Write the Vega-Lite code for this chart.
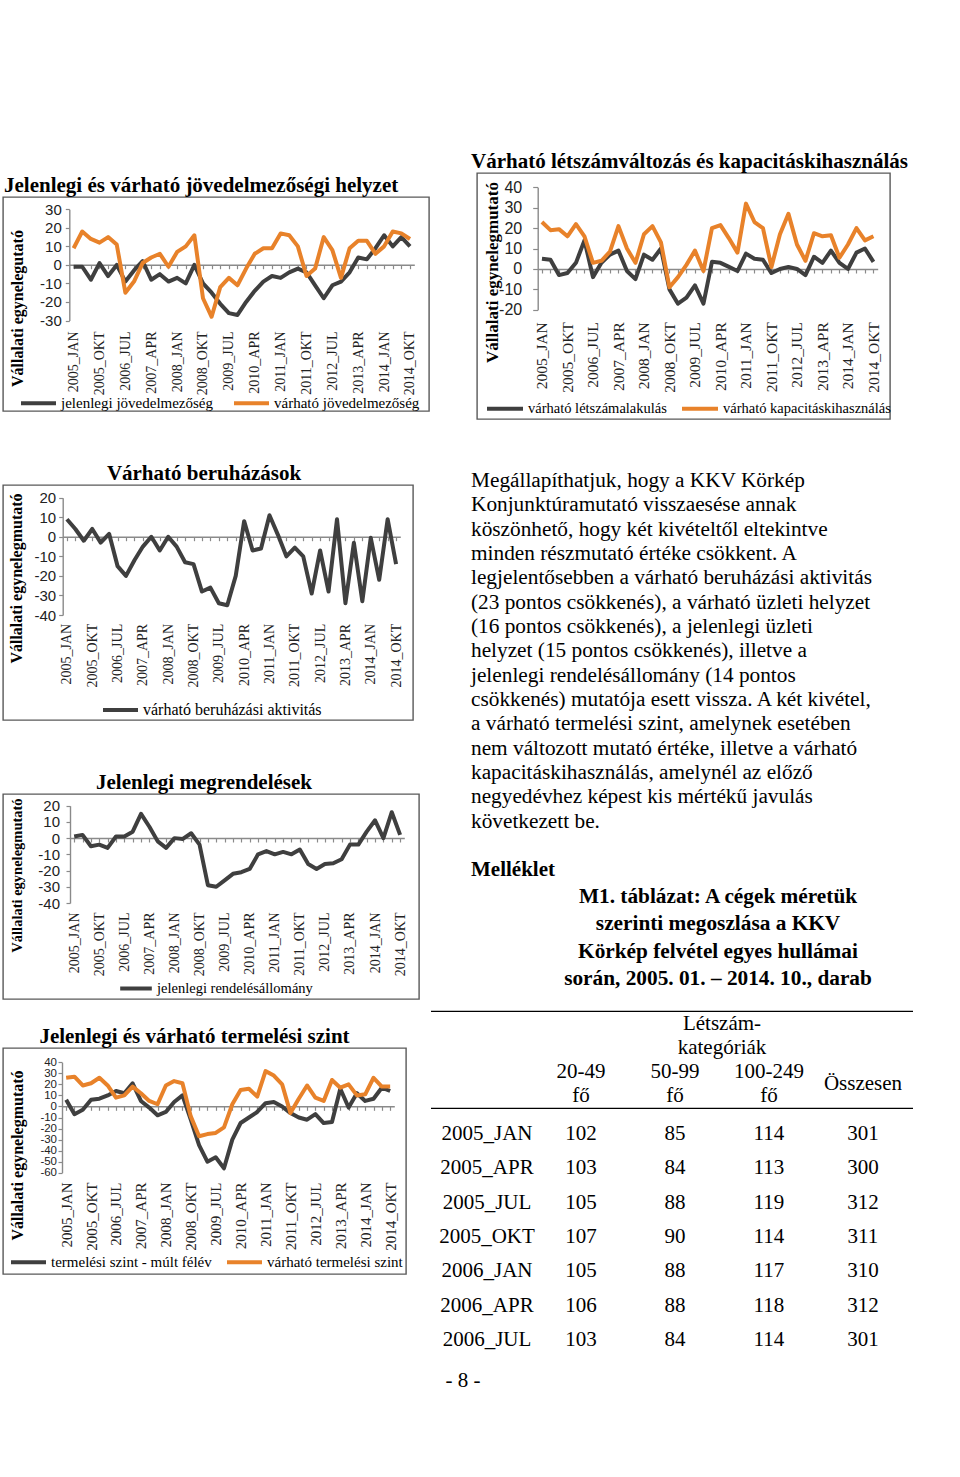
{
  "$schema": "https://vega.github.io/schema/vega-lite/v6.json",
  "background": "white",
  "padding": {"left": 2, "top": 148, "right": 0, "bottom": 0},
  "spacing": 0,
  "resolve": {"scale": {"color": "independent"}, "legend": {"color": "independent"}},
  "config": {
    "view": {"stroke": "#595959", "strokeWidth": 1.4},
    "axis": {"domainColor": "#8a8a8a", "tickColor": "#8a8a8a", "domainWidth": 1.4, "tickWidth": 1.2, "labelColor": "#222", "titleColor": "#000", "grid": false},
    "legend": {"labelFont": "Liberation Serif", "labelFontSize": 15, "labelColor": "#000", "symbolType": "stroke", "symbolStrokeWidth": 4, "symbolSize": 1225, "labelOffset": 3, "padding": 0, "labelLimit": 500},
    "title": {"font": "Liberation Serif", "fontSize": 21, "fontWeight": "bold", "color": "#000", "offset": 1.5}
  },
  "datasets": {
    "d1": [
      {"q":"2005_JAN","s":"jelenlegi jövedelmezőség","v":-1},{"q":"2005_APR","s":"jelenlegi jövedelmezőség","v":-1},{"q":"2005_JUL","s":"jelenlegi jövedelmezőség","v":-8},{"q":"2005_OKT","s":"jelenlegi jövedelmezőség","v":1},
      {"q":"2006_JAN","s":"jelenlegi jövedelmezőség","v":-6},{"q":"2006_APR","s":"jelenlegi jövedelmezőség","v":0},{"q":"2006_JUL","s":"jelenlegi jövedelmezőség","v":-9},{"q":"2006_OKT","s":"jelenlegi jövedelmezőség","v":-3},
      {"q":"2007_JAN","s":"jelenlegi jövedelmezőség","v":2},{"q":"2007_APR","s":"jelenlegi jövedelmezőség","v":-8},{"q":"2007_JUL","s":"jelenlegi jövedelmezőség","v":-5},{"q":"2007_OKT","s":"jelenlegi jövedelmezőség","v":-9},
      {"q":"2008_JAN","s":"jelenlegi jövedelmezőség","v":-7},{"q":"2008_APR","s":"jelenlegi jövedelmezőség","v":-10},{"q":"2008_JUL","s":"jelenlegi jövedelmezőség","v":0},{"q":"2008_OKT","s":"jelenlegi jövedelmezőség","v":-10},
      {"q":"2009_JAN","s":"jelenlegi jövedelmezőség","v":-15},{"q":"2009_APR","s":"jelenlegi jövedelmezőség","v":-21},{"q":"2009_JUL","s":"jelenlegi jövedelmezőség","v":-26},{"q":"2009_OKT","s":"jelenlegi jövedelmezőség","v":-27},
      {"q":"2010_JAN","s":"jelenlegi jövedelmezőség","v":-20},{"q":"2010_APR","s":"jelenlegi jövedelmezőség","v":-14},{"q":"2010_JUL","s":"jelenlegi jövedelmezőség","v":-9},{"q":"2010_OKT","s":"jelenlegi jövedelmezőség","v":-6},
      {"q":"2011_JAN","s":"jelenlegi jövedelmezőség","v":-7},{"q":"2011_APR","s":"jelenlegi jövedelmezőség","v":-4},{"q":"2011_JUL","s":"jelenlegi jövedelmezőség","v":-2},{"q":"2011_OKT","s":"jelenlegi jövedelmezőség","v":-4},
      {"q":"2012_JAN","s":"jelenlegi jövedelmezőség","v":-11},{"q":"2012_APR","s":"jelenlegi jövedelmezőség","v":-18},{"q":"2012_JUL","s":"jelenlegi jövedelmezőség","v":-11},{"q":"2012_OKT","s":"jelenlegi jövedelmezőség","v":-9},
      {"q":"2013_JAN","s":"jelenlegi jövedelmezőség","v":-4},{"q":"2013_APR","s":"jelenlegi jövedelmezőség","v":4},{"q":"2013_JUL","s":"jelenlegi jövedelmezőség","v":3},{"q":"2013_OKT","s":"jelenlegi jövedelmezőség","v":9},
      {"q":"2014_JAN","s":"jelenlegi jövedelmezőség","v":16},{"q":"2014_APR","s":"jelenlegi jövedelmezőség","v":10},{"q":"2014_JUL","s":"jelenlegi jövedelmezőség","v":15},{"q":"2014_OKT","s":"jelenlegi jövedelmezőség","v":10},
      {"q":"2005_JAN","s":"várható jövedelmezőség","v":9},{"q":"2005_APR","s":"várható jövedelmezőség","v":18},{"q":"2005_JUL","s":"várható jövedelmezőség","v":14},{"q":"2005_OKT","s":"várható jövedelmezőség","v":12},
      {"q":"2006_JAN","s":"várható jövedelmezőség","v":15},{"q":"2006_APR","s":"várható jövedelmezőség","v":11},{"q":"2006_JUL","s":"várható jövedelmezőség","v":-15},{"q":"2006_OKT","s":"várható jövedelmezőség","v":-9},
      {"q":"2007_JAN","s":"várható jövedelmezőség","v":1},{"q":"2007_APR","s":"várható jövedelmezőség","v":4},{"q":"2007_JUL","s":"várható jövedelmezőség","v":6},{"q":"2007_OKT","s":"várható jövedelmezőség","v":-1},
      {"q":"2008_JAN","s":"várható jövedelmezőség","v":7},{"q":"2008_APR","s":"várható jövedelmezőség","v":10},{"q":"2008_JUL","s":"várható jövedelmezőség","v":16},{"q":"2008_OKT","s":"várható jövedelmezőség","v":-18},
      {"q":"2009_JAN","s":"várható jövedelmezőség","v":-28},{"q":"2009_APR","s":"várható jövedelmezőség","v":-12},{"q":"2009_JUL","s":"várható jövedelmezőség","v":-7},{"q":"2009_OKT","s":"várható jövedelmezőség","v":-11},
      {"q":"2010_JAN","s":"várható jövedelmezőség","v":-2},{"q":"2010_APR","s":"várható jövedelmezőség","v":6},{"q":"2010_JUL","s":"várható jövedelmezőség","v":9},{"q":"2010_OKT","s":"várható jövedelmezőség","v":9},
      {"q":"2011_JAN","s":"várható jövedelmezőség","v":17},{"q":"2011_APR","s":"várható jövedelmezőség","v":16},{"q":"2011_JUL","s":"várható jövedelmezőség","v":10},{"q":"2011_OKT","s":"várható jövedelmezőség","v":-6},
      {"q":"2012_JAN","s":"várható jövedelmezőség","v":-2},{"q":"2012_APR","s":"várható jövedelmezőség","v":15},{"q":"2012_JUL","s":"várható jövedelmezőség","v":8},{"q":"2012_OKT","s":"várható jövedelmezőség","v":-7},
      {"q":"2013_JAN","s":"várható jövedelmezőség","v":9},{"q":"2013_APR","s":"várható jövedelmezőség","v":13},{"q":"2013_JUL","s":"várható jövedelmezőség","v":13},{"q":"2013_OKT","s":"várható jövedelmezőség","v":6},
      {"q":"2014_JAN","s":"várható jövedelmezőség","v":10},{"q":"2014_APR","s":"várható jövedelmezőség","v":18},{"q":"2014_JUL","s":"várható jövedelmezőség","v":17},{"q":"2014_OKT","s":"várható jövedelmezőség","v":14}
    ],
    "d2": [
      {"q":"2005_JAN","s":"várható létszámalakulás","v":5},{"q":"2005_APR","s":"várható létszámalakulás","v":4.5},{"q":"2005_JUL","s":"várható létszámalakulás","v":-3},{"q":"2005_OKT","s":"várható létszámalakulás","v":-2},
      {"q":"2006_JAN","s":"várható létszámalakulás","v":3},{"q":"2006_APR","s":"várható létszámalakulás","v":14},{"q":"2006_JUL","s":"várható létszámalakulás","v":-4},{"q":"2006_OKT","s":"várható létszámalakulás","v":3},
      {"q":"2007_JAN","s":"várható létszámalakulás","v":7},{"q":"2007_APR","s":"várható létszámalakulás","v":9},{"q":"2007_JUL","s":"várható létszámalakulás","v":-1},{"q":"2007_OKT","s":"várható létszámalakulás","v":-5},
      {"q":"2008_JAN","s":"várható létszámalakulás","v":7},{"q":"2008_APR","s":"várható létszámalakulás","v":4.5},{"q":"2008_JUL","s":"várható létszámalakulás","v":10},{"q":"2008_OKT","s":"várható létszámalakulás","v":-10},
      {"q":"2009_JAN","s":"várható létszámalakulás","v":-17},{"q":"2009_APR","s":"várható létszámalakulás","v":-14},{"q":"2009_JUL","s":"várható létszámalakulás","v":-8},{"q":"2009_OKT","s":"várható létszámalakulás","v":-17},
      {"q":"2010_JAN","s":"várható létszámalakulás","v":3.5},{"q":"2010_APR","s":"várható létszámalakulás","v":3},{"q":"2010_JUL","s":"várható létszámalakulás","v":1},{"q":"2010_OKT","s":"várható létszámalakulás","v":-1},
      {"q":"2011_JAN","s":"várható létszámalakulás","v":7.5},{"q":"2011_APR","s":"várható létszámalakulás","v":5},{"q":"2011_JUL","s":"várható létszámalakulás","v":4.5},{"q":"2011_OKT","s":"várható létszámalakulás","v":-2},
      {"q":"2012_JAN","s":"várható létszámalakulás","v":0},{"q":"2012_APR","s":"várható létszámalakulás","v":1},{"q":"2012_JUL","s":"várható létszámalakulás","v":0},{"q":"2012_OKT","s":"várható létszámalakulás","v":-3},
      {"q":"2013_JAN","s":"várható létszámalakulás","v":6},{"q":"2013_APR","s":"várható létszámalakulás","v":3},{"q":"2013_JUL","s":"várható létszámalakulás","v":9},{"q":"2013_OKT","s":"várható létszámalakulás","v":3},
      {"q":"2014_JAN","s":"várható létszámalakulás","v":0},{"q":"2014_APR","s":"várható létszámalakulás","v":8},{"q":"2014_JUL","s":"várható létszámalakulás","v":10},{"q":"2014_OKT","s":"várható létszámalakulás","v":3.5},
      {"q":"2005_JAN","s":"várható kapacitáskihasználás","v":23},{"q":"2005_APR","s":"várható kapacitáskihasználás","v":19},{"q":"2005_JUL","s":"várható kapacitáskihasználás","v":19.5},{"q":"2005_OKT","s":"várható kapacitáskihasználás","v":16},
      {"q":"2006_JAN","s":"várható kapacitáskihasználás","v":22},{"q":"2006_APR","s":"várható kapacitáskihasználás","v":16},{"q":"2006_JUL","s":"várható kapacitáskihasználás","v":3},{"q":"2006_OKT","s":"várható kapacitáskihasználás","v":4},
      {"q":"2007_JAN","s":"várható kapacitáskihasználás","v":8.5},{"q":"2007_APR","s":"várható kapacitáskihasználás","v":21},{"q":"2007_JUL","s":"várható kapacitáskihasználás","v":10},{"q":"2007_OKT","s":"várható kapacitáskihasználás","v":3},
      {"q":"2008_JAN","s":"várható kapacitáskihasználás","v":17},{"q":"2008_APR","s":"várható kapacitáskihasználás","v":21},{"q":"2008_JUL","s":"várható kapacitáskihasználás","v":13},{"q":"2008_OKT","s":"várható kapacitáskihasználás","v":-9},
      {"q":"2009_JAN","s":"várható kapacitáskihasználás","v":-4},{"q":"2009_APR","s":"várható kapacitáskihasználás","v":2},{"q":"2009_JUL","s":"várható kapacitáskihasználás","v":9},{"q":"2009_OKT","s":"várható kapacitáskihasználás","v":-1},
      {"q":"2010_JAN","s":"várható kapacitáskihasználás","v":20},{"q":"2010_APR","s":"várható kapacitáskihasználás","v":21.5},{"q":"2010_JUL","s":"várható kapacitáskihasználás","v":15},{"q":"2010_OKT","s":"várható kapacitáskihasználás","v":8},
      {"q":"2011_JAN","s":"várható kapacitáskihasználás","v":32},{"q":"2011_APR","s":"várható kapacitáskihasználás","v":23},{"q":"2011_JUL","s":"várható kapacitáskihasználás","v":20},{"q":"2011_OKT","s":"várható kapacitáskihasználás","v":1},
      {"q":"2012_JAN","s":"várható kapacitáskihasználás","v":17},{"q":"2012_APR","s":"várható kapacitáskihasználás","v":27},{"q":"2012_JUL","s":"várható kapacitáskihasználás","v":12},{"q":"2012_OKT","s":"várható kapacitáskihasználás","v":4},
      {"q":"2013_JAN","s":"várható kapacitáskihasználás","v":17.5},{"q":"2013_APR","s":"várható kapacitáskihasználás","v":16},{"q":"2013_JUL","s":"várható kapacitáskihasználás","v":16.5},{"q":"2013_OKT","s":"várható kapacitáskihasználás","v":5.5},
      {"q":"2014_JAN","s":"várható kapacitáskihasználás","v":12},{"q":"2014_APR","s":"várható kapacitáskihasználás","v":20},{"q":"2014_JUL","s":"várható kapacitáskihasználás","v":14},{"q":"2014_OKT","s":"várható kapacitáskihasználás","v":16}
    ],
    "d3": [
      {"q":"2005_JAN","s":"várható beruházási aktivitás","v":9},{"q":"2005_APR","s":"várható beruházási aktivitás","v":4},{"q":"2005_JUL","s":"várható beruházási aktivitás","v":-2},{"q":"2005_OKT","s":"várható beruházási aktivitás","v":4},
      {"q":"2006_JAN","s":"várható beruházási aktivitás","v":-3},{"q":"2006_APR","s":"várható beruházási aktivitás","v":1.5},{"q":"2006_JUL","s":"várható beruházási aktivitás","v":-15},{"q":"2006_OKT","s":"várható beruházási aktivitás","v":-20},
      {"q":"2007_JAN","s":"várható beruházási aktivitás","v":-12},{"q":"2007_APR","s":"várható beruházási aktivitás","v":-5},{"q":"2007_JUL","s":"várható beruházási aktivitás","v":0},{"q":"2007_OKT","s":"várható beruházási aktivitás","v":-7},
      {"q":"2008_JAN","s":"várható beruházási aktivitás","v":0},{"q":"2008_APR","s":"várható beruházási aktivitás","v":-5},{"q":"2008_JUL","s":"várható beruházási aktivitás","v":-13},{"q":"2008_OKT","s":"várható beruházási aktivitás","v":-14},
      {"q":"2009_JAN","s":"várható beruházási aktivitás","v":-28},{"q":"2009_APR","s":"várható beruházási aktivitás","v":-26},{"q":"2009_JUL","s":"várható beruházási aktivitás","v":-34},{"q":"2009_OKT","s":"várható beruházási aktivitás","v":-35},
      {"q":"2010_JAN","s":"várható beruházási aktivitás","v":-20},{"q":"2010_APR","s":"várható beruházási aktivitás","v":8},{"q":"2010_JUL","s":"várható beruházási aktivitás","v":-7},{"q":"2010_OKT","s":"várható beruházási aktivitás","v":-6},
      {"q":"2011_JAN","s":"várható beruházási aktivitás","v":11},{"q":"2011_APR","s":"várható beruházási aktivitás","v":1},{"q":"2011_JUL","s":"várható beruházási aktivitás","v":-10},{"q":"2011_OKT","s":"várható beruházási aktivitás","v":-5.5},
      {"q":"2012_JAN","s":"várható beruházási aktivitás","v":-10},{"q":"2012_APR","s":"várható beruházási aktivitás","v":-29},{"q":"2012_JUL","s":"várható beruházási aktivitás","v":-7},{"q":"2012_OKT","s":"várható beruházási aktivitás","v":-28},
      {"q":"2013_JAN","s":"várható beruházási aktivitás","v":9},{"q":"2013_APR","s":"várható beruházási aktivitás","v":-34},{"q":"2013_JUL","s":"várható beruházási aktivitás","v":-3},{"q":"2013_OKT","s":"várható beruházási aktivitás","v":-33},
      {"q":"2014_JAN","s":"várható beruházási aktivitás","v":-0.5},{"q":"2014_APR","s":"várható beruházási aktivitás","v":-22},{"q":"2014_JUL","s":"várható beruházási aktivitás","v":9},{"q":"2014_OKT","s":"várható beruházási aktivitás","v":-14}
    ],
    "d4": [
      {"q":"2005_JAN","s":"jelenlegi rendelésállomány","v":1},{"q":"2005_APR","s":"jelenlegi rendelésállomány","v":2},{"q":"2005_JUL","s":"jelenlegi rendelésállomány","v":-5},{"q":"2005_OKT","s":"jelenlegi rendelésállomány","v":-4},
      {"q":"2006_JAN","s":"jelenlegi rendelésállomány","v":-6},{"q":"2006_APR","s":"jelenlegi rendelésállomány","v":1},{"q":"2006_JUL","s":"jelenlegi rendelésállomány","v":1},{"q":"2006_OKT","s":"jelenlegi rendelésállomány","v":4},
      {"q":"2007_JAN","s":"jelenlegi rendelésállomány","v":15},{"q":"2007_APR","s":"jelenlegi rendelésállomány","v":7},{"q":"2007_JUL","s":"jelenlegi rendelésállomány","v":-2},{"q":"2007_OKT","s":"jelenlegi rendelésállomány","v":-6},
      {"q":"2008_JAN","s":"jelenlegi rendelésállomány","v":0},{"q":"2008_APR","s":"jelenlegi rendelésállomány","v":-0.5},{"q":"2008_JUL","s":"jelenlegi rendelésállomány","v":3},{"q":"2008_OKT","s":"jelenlegi rendelésállomány","v":-4},
      {"q":"2009_JAN","s":"jelenlegi rendelésállomány","v":-29},{"q":"2009_APR","s":"jelenlegi rendelésállomány","v":-30},{"q":"2009_JUL","s":"jelenlegi rendelésállomány","v":-26},{"q":"2009_OKT","s":"jelenlegi rendelésállomány","v":-22},
      {"q":"2010_JAN","s":"jelenlegi rendelésállomány","v":-21},{"q":"2010_APR","s":"jelenlegi rendelésállomány","v":-19},{"q":"2010_JUL","s":"jelenlegi rendelésállomány","v":-10},{"q":"2010_OKT","s":"jelenlegi rendelésállomány","v":-8},
      {"q":"2011_JAN","s":"jelenlegi rendelésállomány","v":-10},{"q":"2011_APR","s":"jelenlegi rendelésállomány","v":-8.5},{"q":"2011_JUL","s":"jelenlegi rendelésállomány","v":-10},{"q":"2011_OKT","s":"jelenlegi rendelésállomány","v":-7},
      {"q":"2012_JAN","s":"jelenlegi rendelésállomány","v":-16},{"q":"2012_APR","s":"jelenlegi rendelésállomány","v":-19},{"q":"2012_JUL","s":"jelenlegi rendelésállomány","v":-16},{"q":"2012_OKT","s":"jelenlegi rendelésállomány","v":-15.5},
      {"q":"2013_JAN","s":"jelenlegi rendelésállomány","v":-13},{"q":"2013_APR","s":"jelenlegi rendelésállomány","v":-4},{"q":"2013_JUL","s":"jelenlegi rendelésállomány","v":-4},{"q":"2013_OKT","s":"jelenlegi rendelésállomány","v":4},
      {"q":"2014_JAN","s":"jelenlegi rendelésállomány","v":11},{"q":"2014_APR","s":"jelenlegi rendelésállomány","v":0},{"q":"2014_JUL","s":"jelenlegi rendelésállomány","v":16},{"q":"2014_OKT","s":"jelenlegi rendelésállomány","v":2}
    ],
    "d5": [
      {"q":"2005_JAN","s":"termelési szint - múlt félév","v":6},{"q":"2005_APR","s":"termelési szint - múlt félév","v":-7},{"q":"2005_JUL","s":"termelési szint - múlt félév","v":-3},{"q":"2005_OKT","s":"termelési szint - múlt félév","v":6},
      {"q":"2006_JAN","s":"termelési szint - múlt félév","v":7},{"q":"2006_APR","s":"termelési szint - múlt félév","v":10},{"q":"2006_JUL","s":"termelési szint - múlt félév","v":14},{"q":"2006_OKT","s":"termelési szint - múlt félév","v":12},
      {"q":"2007_JAN","s":"termelési szint - múlt félév","v":21},{"q":"2007_APR","s":"termelési szint - múlt félév","v":5},{"q":"2007_JUL","s":"termelési szint - múlt félév","v":-1},{"q":"2007_OKT","s":"termelési szint - múlt félév","v":-8},
      {"q":"2008_JAN","s":"termelési szint - múlt félév","v":-5},{"q":"2008_APR","s":"termelési szint - múlt félév","v":4},{"q":"2008_JUL","s":"termelési szint - múlt félév","v":10},{"q":"2008_OKT","s":"termelési szint - múlt félév","v":-12},
      {"q":"2009_JAN","s":"termelési szint - múlt félév","v":-35},{"q":"2009_APR","s":"termelési szint - múlt félév","v":-50},{"q":"2009_JUL","s":"termelési szint - múlt félév","v":-46},{"q":"2009_OKT","s":"termelési szint - múlt félév","v":-56},
      {"q":"2010_JAN","s":"termelési szint - múlt félév","v":-30},{"q":"2010_APR","s":"termelési szint - múlt félév","v":-15},{"q":"2010_JUL","s":"termelési szint - múlt félév","v":-10},{"q":"2010_OKT","s":"termelési szint - múlt félév","v":-5},
      {"q":"2011_JAN","s":"termelési szint - múlt félév","v":3},{"q":"2011_APR","s":"termelési szint - múlt félév","v":4},{"q":"2011_JUL","s":"termelési szint - múlt félév","v":0},{"q":"2011_OKT","s":"termelési szint - múlt félév","v":-6},
      {"q":"2012_JAN","s":"termelési szint - múlt félév","v":-10},{"q":"2012_APR","s":"termelési szint - múlt félév","v":-12},{"q":"2012_JUL","s":"termelési szint - múlt félév","v":-7},{"q":"2012_OKT","s":"termelési szint - múlt félév","v":-15},
      {"q":"2013_JAN","s":"termelési szint - múlt félév","v":-14},{"q":"2013_APR","s":"termelési szint - múlt félév","v":16},{"q":"2013_JUL","s":"termelési szint - múlt félév","v":-1},{"q":"2013_OKT","s":"termelési szint - múlt félév","v":12},
      {"q":"2014_JAN","s":"termelési szint - múlt félév","v":5},{"q":"2014_APR","s":"termelési szint - múlt félév","v":7},{"q":"2014_JUL","s":"termelési szint - múlt félév","v":17},{"q":"2014_OKT","s":"termelési szint - múlt félév","v":14},
      {"q":"2005_JAN","s":"várható termelési szint","v":26},{"q":"2005_APR","s":"várható termelési szint","v":27},{"q":"2005_JUL","s":"várható termelési szint","v":19},{"q":"2005_OKT","s":"várható termelési szint","v":21},
      {"q":"2006_JAN","s":"várható termelési szint","v":26},{"q":"2006_APR","s":"várható termelési szint","v":19},{"q":"2006_JUL","s":"várható termelési szint","v":8},{"q":"2006_OKT","s":"várható termelési szint","v":10},
      {"q":"2007_JAN","s":"várható termelési szint","v":18},{"q":"2007_APR","s":"várható termelési szint","v":12},{"q":"2007_JUL","s":"várható termelési szint","v":5},{"q":"2007_OKT","s":"várható termelési szint","v":2},
      {"q":"2008_JAN","s":"várható termelési szint","v":19},{"q":"2008_APR","s":"várható termelési szint","v":23},{"q":"2008_JUL","s":"várható termelési szint","v":21},{"q":"2008_OKT","s":"várható termelési szint","v":-9},
      {"q":"2009_JAN","s":"várható termelési szint","v":-27},{"q":"2009_APR","s":"várható termelési szint","v":-25},{"q":"2009_JUL","s":"várható termelési szint","v":-24},{"q":"2009_OKT","s":"várható termelési szint","v":-19},
      {"q":"2010_JAN","s":"várható termelési szint","v":2},{"q":"2010_APR","s":"várható termelési szint","v":15},{"q":"2010_JUL","s":"várható termelési szint","v":16},{"q":"2010_OKT","s":"várható termelési szint","v":9},
      {"q":"2011_JAN","s":"várható termelési szint","v":32},{"q":"2011_APR","s":"várható termelési szint","v":28},{"q":"2011_JUL","s":"várható termelési szint","v":20},{"q":"2011_OKT","s":"várható termelési szint","v":-6},
      {"q":"2012_JAN","s":"várható termelési szint","v":7},{"q":"2012_APR","s":"várható termelési szint","v":19},{"q":"2012_JUL","s":"várható termelési szint","v":8},{"q":"2012_OKT","s":"várható termelési szint","v":5},
      {"q":"2013_JAN","s":"várható termelési szint","v":24},{"q":"2013_APR","s":"várható termelési szint","v":17},{"q":"2013_JUL","s":"várható termelési szint","v":20},{"q":"2013_OKT","s":"várható termelési szint","v":10},
      {"q":"2014_JAN","s":"várható termelési szint","v":11},{"q":"2014_APR","s":"várható termelési szint","v":26},{"q":"2014_JUL","s":"várható termelési szint","v":18},{"q":"2014_OKT","s":"várható termelési szint","v":18}
    ]
  },
  "hconcat": [
    {
      "spacing": 24,
      "resolve": {"scale": {"color": "independent"}, "legend": {"color": "independent"}},
      "vconcat": [
        {"width": 10, "height": 1, "view": {"stroke": null}, "data": {"values": []}, "mark": "text"},
        {
          "width": 426, "height": 214,
          "title": {"text": "Jelenlegi és várható jövedelmezőségi helyzet", "anchor": "start", "dx": 1},
          "data": {"name": "d1"},
          "mark": {"type": "line", "strokeWidth": 4, "strokeJoin": "round"},
          "encoding": {
            "x": {"field": "q", "type": "ordinal", "sort": null, "title": null,
              "scale": {"type": "point", "range": [66.3, 411.3], "padding": 0.5},
              "axis": {"orient": "bottom", "offset": -146.3, "tickSize": 4, "labelAngle": -90, "labelPadding": 62.3, "labelOverlap": false, "labelFont": "Liberation Serif", "labelFontSize": 14,
                "labelExpr": "indexof(['2005_JAN','2005_OKT','2006_JUL','2007_APR','2008_JAN','2008_OKT','2009_JUL','2010_APR','2011_JAN','2011_OKT','2012_JUL','2013_APR','2014_JAN','2014_OKT'], datum.value) >= 0 ? datum.value : ''"}},
            "y": {"field": "v", "type": "quantitative",
              "scale": {"domain": [-30, 30], "range": [123.5, 12.3], "nice": false, "zero": false},
              "axis": {"offset": -66.3, "values": [-30, -20, -10, 0, 10, 20, 30], "labelExpr": "'' + datum.value", "tickSize": 4, "labelPadding": 4, "labelFont": "Liberation Sans Narrow, Liberation Sans", "labelFontSize": 15,
                "title": "Vállalati egynelegutató", "titleX": -52.3, "titleY": 111, "titleAngle": -90, "titleAlign": "center", "titleBaseline": "middle", "titleFont": "Liberation Serif", "titleFontSize": 16, "titleFontWeight": "bold"}},
            "color": {"field": "s", "type": "nominal",
              "scale": {"domain": ["jelenlegi jövedelmezőség", "várható jövedelmezőség"], "range": ["#3f3f3f", "#e8822a"]},
              "legend": {"title": null, "orient": "none", "legendX": 16, "legendY": 186.5, "direction": "horizontal", "columnPadding": 12, "labelFontSize": 15}},
            "order": {"value": null}
          }
        },
        {
          "width": 410, "height": 235,
          "title": {"text": ["", "Várható beruházások"], "anchor": "middle", "dx": -4, "lineHeight": 24},
          "data": {"name": "d3"},
          "mark": {"type": "line", "strokeWidth": 4, "strokeJoin": "round"},
          "encoding": {
            "x": {"field": "q", "type": "ordinal", "sort": null, "title": null,
              "scale": {"type": "point", "range": [59.7, 397.3], "padding": 0.5},
              "axis": {"orient": "bottom", "offset": -183.3, "tickSize": 4, "labelAngle": -90, "labelPadding": 82.6, "labelOverlap": false, "labelFont": "Liberation Serif", "labelFontSize": 14,
                "labelExpr": "indexof(['2005_JAN','2005_OKT','2006_JUL','2007_APR','2008_JAN','2008_OKT','2009_JUL','2010_APR','2011_JAN','2011_OKT','2012_JUL','2013_APR','2014_JAN','2014_OKT'], datum.value) >= 0 ? datum.value : ''"}},
            "y": {"field": "v", "type": "quantitative",
              "scale": {"domain": [-40, 20], "range": [130, 12.7], "nice": false, "zero": false},
              "axis": {"offset": -59.7, "values": [-40, -30, -20, -10, 0, 10, 20], "labelExpr": "'' + datum.value", "tickSize": 4, "labelPadding": 3, "labelFont": "Liberation Sans Narrow, Liberation Sans", "labelFontSize": 15,
                "title": "Vállalati egynelegmutató", "titleX": -46.7, "titleY": 93, "titleAngle": -90, "titleAlign": "center", "titleBaseline": "middle", "titleFont": "Liberation Serif", "titleFontSize": 16, "titleFontWeight": "bold"}},
            "color": {"field": "s", "type": "nominal",
              "scale": {"domain": ["várható beruházási aktivitás"], "range": ["#3f3f3f"]},
              "legend": {"title": null, "orient": "none", "legendX": 98, "legendY": 205.5, "direction": "horizontal", "labelFontSize": 16}},
            "order": {"value": null}
          }
        },
        {
          "width": 416, "height": 205,
          "title": {"text": ["", "Jelenlegi megrendelések"], "anchor": "middle", "dx": -7, "lineHeight": 25},
          "data": {"name": "d4"},
          "mark": {"type": "line", "strokeWidth": 4, "strokeJoin": "round"},
          "encoding": {
            "x": {"field": "q", "type": "ordinal", "sort": null, "title": null,
              "scale": {"type": "point", "range": [67, 401.3], "padding": 0.5},
              "axis": {"orient": "bottom", "offset": -161, "tickSize": 4, "labelAngle": -90, "labelPadding": 70, "labelOverlap": false, "labelFont": "Liberation Serif", "labelFontSize": 14,
                "labelExpr": "indexof(['2005_JAN','2005_OKT','2006_JUL','2007_APR','2008_JAN','2008_OKT','2009_JUL','2010_APR','2011_JAN','2011_OKT','2012_JUL','2013_APR','2014_JAN','2014_OKT'], datum.value) >= 0 ? datum.value : ''"}},
            "y": {"field": "v", "type": "quantitative",
              "scale": {"domain": [-40, 20], "range": [109, 11.7], "nice": false, "zero": false},
              "axis": {"offset": -67, "values": [-40, -30, -20, -10, 0, 10, 20], "labelExpr": "'' + datum.value", "tickSize": 4, "labelPadding": 6.5, "labelFont": "Liberation Sans Narrow, Liberation Sans", "labelFontSize": 15,
                "title": "Vállalati egynelegmutató", "titleX": -53, "titleY": 81, "titleAngle": -90, "titleAlign": "center", "titleBaseline": "middle", "titleFont": "Liberation Serif", "titleFontSize": 14.5, "titleFontWeight": "bold"}},
            "color": {"field": "s", "type": "nominal",
              "scale": {"domain": ["jelenlegi rendelésállomány"], "range": ["#3f3f3f"]},
              "legend": {"title": null, "orient": "none", "legendX": 115, "legendY": 176.5, "direction": "horizontal", "symbolSize": 1000, "labelFontSize": 14.5}},
            "order": {"value": null}
          }
        },
        {
          "width": 403, "height": 226,
          "title": {"text": "Jelenlegi és várható termelési szint", "anchor": "middle", "dx": -10},
          "data": {"name": "d5"},
          "mark": {"type": "line", "strokeWidth": 4, "strokeJoin": "round"},
          "encoding": {
            "x": {"field": "q", "type": "ordinal", "sort": null, "title": null,
              "scale": {"type": "point", "range": [59, 391.3], "padding": 0.5},
              "axis": {"orient": "bottom", "offset": -167.7, "tickSize": 4, "labelAngle": -90, "labelPadding": 71.7, "labelOverlap": false, "labelFont": "Liberation Serif", "labelFontSize": 15,
                "labelExpr": "indexof(['2005_JAN','2005_OKT','2006_JUL','2007_APR','2008_JAN','2008_OKT','2009_JUL','2010_APR','2011_JAN','2011_OKT','2012_JUL','2013_APR','2014_JAN','2014_OKT'], datum.value) >= 0 ? datum.value : ''"}},
            "y": {"field": "v", "type": "quantitative",
              "scale": {"domain": [-60, 40], "range": [124.7, 14.3], "nice": false, "zero": false},
              "axis": {"offset": -59, "values": [-60, -50, -40, -30, -20, -10, 0, 10, 20, 30, 40], "labelExpr": "'' + datum.value", "tickSize": 4, "labelPadding": 1.5, "labelOverlap": false, "labelFont": "Liberation Sans Narrow, Liberation Sans", "labelFontSize": 11.5,
                "title": "Vállalati egynelegmutató", "titleX": -44.3, "titleY": 107, "titleAngle": -90, "titleAlign": "center", "titleBaseline": "middle", "titleFont": "Liberation Serif", "titleFontSize": 16, "titleFontWeight": "bold"}},
            "color": {"field": "s", "type": "nominal",
              "scale": {"domain": ["termelési szint - múlt félév", "várható termelési szint"], "range": ["#3f3f3f", "#e8822a"]},
              "legend": {"title": null, "orient": "none", "legendX": 6, "legendY": 194.5, "direction": "horizontal", "columnPadding": 7, "labelFontSize": 15}},
            "order": {"value": null}
          }
        }
      ]
    },
    {
      "spacing": 0,
      "resolve": {"scale": {"color": "independent"}, "legend": {"color": "independent"}},
      "vconcat": [
        {"width": 10, "height": 1, "view": {"stroke": null}, "data": {"values": []}, "mark": "text"},
        {
          "spacing": 0,
          "resolve": {"scale": {"color": "independent"}, "legend": {"color": "independent"}},
          "hconcat": [
            {"width": 39, "height": 1, "view": {"stroke": null}, "data": {"values": []}, "mark": "text"},
            {
              "spacing": 0,
              "resolve": {"scale": {"color": "independent"}, "legend": {"color": "independent"}},
              "vconcat": [
                {
                  "width": 413, "height": 246,
                  "title": {"text": "Várható létszámváltozás és kapacitáskihasználás", "anchor": "start", "dx": -6},
                  "data": {"name": "d2"},
                  "mark": {"type": "line", "strokeWidth": 4, "strokeJoin": "round"},
                  "encoding": {
                    "x": {"field": "q", "type": "ordinal", "sort": null, "title": null,
                      "scale": {"type": "point", "range": [60.7, 400.7], "padding": 0.5},
                      "axis": {"orient": "bottom", "offset": -150, "tickSize": 4, "labelAngle": -90, "labelPadding": 48.7, "labelOverlap": false, "labelFont": "Liberation Serif", "labelFontSize": 15.5,
                        "labelExpr": "indexof(['2005_JAN','2005_OKT','2006_JUL','2007_APR','2008_JAN','2008_OKT','2009_JUL','2010_APR','2011_JAN','2011_OKT','2012_JUL','2013_APR','2014_JAN','2014_OKT'], datum.value) >= 0 ? datum.value : ''"}},
                    "y": {"field": "v", "type": "quantitative",
                      "scale": {"domain": [-20, 40], "range": [136.8, 14.3], "nice": false, "zero": false},
                      "axis": {"offset": -60.7, "values": [-20, -10, 0, 10, 20, 30, 40], "labelExpr": "'' + datum.value", "tickSize": 5, "labelPadding": 11, "labelFont": "Liberation Sans Narrow, Liberation Sans", "labelFontSize": 16,
                        "title": "Vállalati egynelegmutató", "titleX": -45, "titleY": 99, "titleAngle": -90, "titleAlign": "center", "titleBaseline": "middle", "titleFont": "Liberation Serif", "titleFontSize": 17, "titleFontWeight": "bold"}},
                    "color": {"field": "s", "type": "nominal",
                      "scale": {"domain": ["várható létszámalakulás", "várható kapacitáskihasználás"], "range": ["#3f3f3f", "#e8822a"]},
                      "legend": {"title": null, "orient": "none", "legendX": 8, "legendY": 215.7, "direction": "horizontal", "columnPadding": 7, "symbolSize": 1296, "labelFontSize": 14.5}},
                    "order": {"value": null}
                  }
                },
                {
                  "width": 400, "height": 462.6, "view": {"stroke": null},
                  "layer": [
                    {
                      "data": {"values": [
                        {"n": 1, "t": "Megállapíthatjuk, hogy a KKV Körkép"},
                        {"n": 2, "t": "Konjunktúramutató visszaesése annak"},
                        {"n": 3, "t": "köszönhető, hogy két kivételtől eltekintve"},
                        {"n": 4, "t": "minden részmutató értéke csökkent. A"},
                        {"n": 5, "t": "legjelentősebben a várható beruházási aktivitás"},
                        {"n": 6, "t": "(23 pontos csökkenés), a várható üzleti helyzet"},
                        {"n": 7, "t": "(16 pontos csökkenés), a jelenlegi üzleti"},
                        {"n": 8, "t": "helyzet (15 pontos csökkenés), illetve a"},
                        {"n": 9, "t": "jelenlegi rendelésállomány (14 pontos"},
                        {"n": 10, "t": "csökkenés) mutatója esett vissza. A két kivétel,"},
                        {"n": 11, "t": "a várható termelési szint, amelynek esetében"},
                        {"n": 12, "t": "nem változott mutató értéke, illetve a várható"},
                        {"n": 13, "t": "kapacitáskihasználás, amelynél az előző"},
                        {"n": 14, "t": "negyedévhez képest kis mértékű javulás"},
                        {"n": 15, "t": "következett be."}
                      ]},
                      "mark": {"type": "text", "align": "left", "baseline": "middle", "font": "Liberation Serif", "fontSize": 21.3, "color": "#000", "dx": -6},
                      "encoding": {
                        "y": {"field": "n", "type": "ordinal", "scale": {"type": "band", "domain": [1,2,3,4,5,6,7,8,9,10,11,12,13,14,15,16,17], "paddingInner": 0, "paddingOuter": 1.039, "align": 1}, "axis": null},
                        "x": {"datum": 0, "type": "quantitative", "scale": {"domain": [0, 1]}, "axis": null},
                        "text": {"field": "t"}
                      }
                    },
                    {
                      "data": {"values": [{"n": 17, "t": "Melléklet"}]},
                      "mark": {"type": "text", "align": "left", "baseline": "middle", "font": "Liberation Serif", "fontSize": 21, "fontWeight": "bold", "color": "#000", "dx": -6},
                      "encoding": {
                        "y": {"field": "n", "type": "ordinal", "axis": null},
                        "x": {"datum": 0, "type": "quantitative", "axis": null},
                        "text": {"field": "t"}
                      }
                    }
                  ]
                },
                {
                  "width": 400, "height": 110, "view": {"stroke": null},
                  "data": {"values": [
                    {"n": 1, "t": "M1. táblázat: A cégek méretük"},
                    {"n": 2, "t": "szerinti megoszlása a KKV"},
                    {"n": 3, "t": "Körkép felvétel egyes hullámai"},
                    {"n": 4, "t": "során, 2005. 01. – 2014. 10., darab"}
                  ]},
                  "mark": {"type": "text", "align": "center", "baseline": "middle", "font": "Liberation Serif", "fontSize": 21.3, "fontWeight": "bold", "color": "#000", "dx": 41},
                  "encoding": {
                    "y": {"field": "n", "type": "ordinal", "scale": {"type": "band", "paddingInner": 0, "paddingOuter": 0}, "axis": null},
                    "text": {"field": "t"}
                  }
                }
              ]
            }
          ]
        },
        {
          "width": 482, "height": 115.4, "view": {"stroke": null},
          "layer": [
            {
              "data": {"values": [{"line": "1"}]},
              "mark": {"type": "rule", "color": "#000", "strokeWidth": 1.3},
              "encoding": {"y": {"field": "line", "type": "ordinal", "bandPosition": 0, "scale": {"type": "band", "domain": ["1", "2", "3", "4"], "paddingInner": 0, "paddingOuter": 0.379, "align": 1}, "axis": null}}
            },
            {
              "data": {"values": [{"line": "4"}]},
              "mark": {"type": "rule", "color": "#000", "strokeWidth": 1.3},
              "encoding": {"y": {"field": "line", "type": "ordinal", "bandPosition": 1, "axis": null}}
            },
            {
              "data": {"values": [{"line": "1", "key": "f50_99", "t": "Létszám-"}, {"line": "2", "key": "f50_99", "t": "kategóriák"}]},
              "mark": {"type": "text", "baseline": "middle", "font": "Liberation Serif", "fontSize": 21, "color": "#000", "xOffset": 47},
              "encoding": {
                "y": {"field": "line", "type": "ordinal", "axis": null},
                "x": {"field": "key", "type": "nominal", "scale": {"type": "point", "domain": ["period", "f20_49", "f50_99", "f100_249", "total"], "padding": 0.564, "align": 0.528}, "axis": null},
                "text": {"field": "t"}
              }
            },
            {
              "data": {"values": [
                {"line": "3", "key": "f20_49", "t": "20-49"}, {"line": "3", "key": "f50_99", "t": "50-99"}, {"line": "3", "key": "f100_249", "t": "100-249"},
                {"line": "4", "key": "f20_49", "t": "fő"}, {"line": "4", "key": "f50_99", "t": "fő"}, {"line": "4", "key": "f100_249", "t": "fő"}
              ]},
              "mark": {"type": "text", "baseline": "middle", "font": "Liberation Serif", "fontSize": 21, "color": "#000"},
              "encoding": {
                "y": {"field": "line", "type": "ordinal", "axis": null},
                "x": {"field": "key", "type": "nominal", "axis": null},
                "text": {"field": "t"}
              }
            },
            {
              "data": {"values": [{"line": "3", "key": "total", "t": "Összesen"}]},
              "mark": {"type": "text", "baseline": "middle", "font": "Liberation Serif", "fontSize": 21, "color": "#000", "yOffset": 12},
              "encoding": {
                "y": {"field": "line", "type": "ordinal", "axis": null},
                "x": {"field": "key", "type": "nominal", "axis": null},
                "text": {"field": "t"}
              }
            }
          ]
        },
        {
          "width": 482, "height": 247, "view": {"stroke": null},
          "data": {"values": [
            {"period": "2005_JAN", "f20_49": 102, "f50_99": 85, "f100_249": 114, "total": 301},
            {"period": "2005_APR", "f20_49": 103, "f50_99": 84, "f100_249": 113, "total": 300},
            {"period": "2005_JUL", "f20_49": 105, "f50_99": 88, "f100_249": 119, "total": 312},
            {"period": "2005_OKT", "f20_49": 107, "f50_99": 90, "f100_249": 114, "total": 311},
            {"period": "2006_JAN", "f20_49": 105, "f50_99": 88, "f100_249": 117, "total": 310},
            {"period": "2006_APR", "f20_49": 106, "f50_99": 88, "f100_249": 118, "total": 312},
            {"period": "2006_JUL", "f20_49": 103, "f50_99": 84, "f100_249": 114, "total": 301}
          ]},
          "transform": [{"fold": ["period", "f20_49", "f50_99", "f100_249", "total"]}],
          "mark": {"type": "text", "baseline": "middle", "font": "Liberation Serif", "fontSize": 21, "color": "#000"},
          "encoding": {
            "y": {"field": "period", "type": "ordinal", "sort": null, "scale": {"type": "band", "paddingInner": 0, "paddingOuter": 0.1, "align": 1}, "axis": null},
            "x": {"field": "key", "type": "nominal", "scale": {"type": "point", "domain": ["period", "f20_49", "f50_99", "f100_249", "total"], "padding": 0.564, "align": 0.528}, "axis": null},
            "text": {"field": "value"}
          }
        },
        {
          "width": 64, "height": 48, "view": {"stroke": null},
          "data": {"values": [{"t": "- 8 -"}]},
          "mark": {"type": "text", "font": "Liberation Serif", "fontSize": 21, "color": "#000"},
          "encoding": {"text": {"field": "t"}}
        }
      ]
    }
  ]
}
